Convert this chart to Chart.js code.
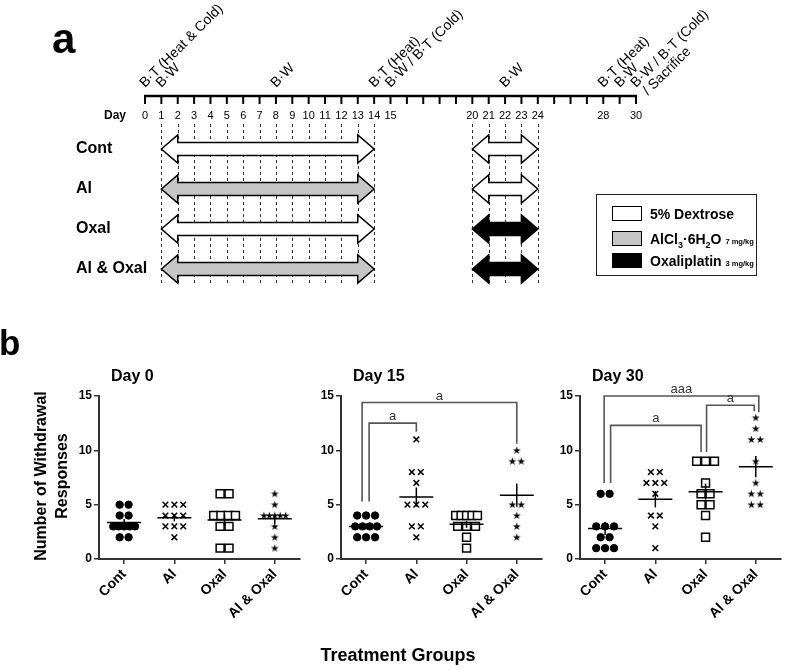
<!DOCTYPE html>
<html><head><meta charset="utf-8">
<script src="https://cdn.jsdelivr.net/npm/chart.js@4.4.1/dist/chart.umd.min.js"></script>
<style>
body{margin:0;background:#fff;width:787px;height:670px;position:relative;overflow:hidden;font-family:Arial,"Liberation Sans",sans-serif;}
canvas{position:absolute;}
.t{position:absolute;font-weight:bold;color:#000;white-space:nowrap;}
#legend{position:absolute;left:596px;top:194px;width:161px;height:82px;border:1px solid #222;box-sizing:border-box;}
.sw{position:absolute;left:15px;width:30px;height:15px;border:1.5px solid #000;box-sizing:border-box;}
.lt{position:absolute;left:53px;font-weight:bold;font-size:14px;line-height:16px;white-space:nowrap;}
.lt small{font-size:7.5px;}
</style></head><body>
<canvas id="cA" style="left:0;top:0" width="787" height="300"></canvas>
<canvas id="c0" style="left:0;top:360px" width="307" height="310"></canvas>
<canvas id="c15" style="left:242px;top:360px" width="307" height="310"></canvas>
<canvas id="c30" style="left:481px;top:360px" width="307" height="310"></canvas>

<div class="t" style="left:52px;top:18px;font-size:42px;line-height:42px;">a</div>
<div class="t" style="left:-1px;top:325px;font-size:35px;line-height:35px;">b</div>
<div class="t" style="left:-48px;top:454px;width:200px;height:44px;font-size:16px;line-height:21px;text-align:center;transform:rotate(-90deg);">Number of Withdrawal<br>Responses</div>
<div class="t" style="left:298px;top:644px;width:200px;text-align:center;font-size:18px;line-height:22px;">Treatment Groups</div>

<div id="legend">
  <div class="sw" style="top:11px;background:#fff"></div><div class="lt" style="top:11px">5% Dextrose</div>
  <div class="sw" style="top:36px;background:#c6c6c6"></div><div class="lt" style="top:36px">AlCl<sub style="font-size:9px">3</sub>·6H<sub style="font-size:9px">2</sub>O <small>7 mg/kg</small></div>
  <div class="sw" style="top:58px;background:#000"></div><div class="lt" style="top:58px">Oxaliplatin <small>3 mg/kg</small></div>
</div>

<script>
// ---------------- DATA ----------------
// Panel a: timeline
const rows = ['Cont', 'Al', 'Oxal', 'Al & Oxal'];
const phase1 = [[1, 14], [1, 14], [1, 14], [1, 14]];
const phase2 = [[20, 24], [20, 24], [20, 24], [20, 24]];
const dayLabels = [0,1,2,3,4,5,6,7,8,9,10,11,12,13,14,15,20,21,22,23,24,28,30];
const dashedDays = [1,2,3,4,5,6,7,8,9,10,11,12,13,14,20,21,22,23,24];
const annotationDays = [0, 1, 8, 14, 15, 22, 28, 29, 30];
const annotationTexts = [['B·T (Heat & Cold)'], ['B·W'], ['B·W'], ['B·T (Heat)'], ['B·W / B·T (Cold)'], ['B·W'], ['B·T (Heat)'], ['B·W'], ['B·W / B·T (Cold)', '/ Sacrifice']];

// Panel b: withdrawal responses
const groups = ['Cont', 'Al', 'Oxal', 'Al & Oxal'];
const yTicks = [0, 5, 10, 15];
const day0Cont    = [5,5,4,4,3,3,3,3,3,2,2];
const day0Al      = [5,5,5,4,4,4,3,3,3,2];
const day0Oxal    = [6,6,4,4,4,4,3,3,1,1];
const day0AlOxal  = [6,5,4,4,4,4,4,3,2,1];
const day15Cont   = [4,4,4,3,3,3,3,2,2,2];
const day15Al     = [11,8,8,7,5,5,5,3,3,2];
const day15Oxal   = [4,4,4,4,4,3,3,3,2,1];
const day15AlOxal = [10,9,9,5,5,4,3,2];
const day30Cont   = [6,6,3,3,3,2,2,1,1,1];
const day30Al     = [8,8,7,7,7,6,4,4,3,1];
const day30Oxal   = [9,9,9,7,6,6,5,5,4,2];
const day30AlOxal = [13,12,11,11,9,7,6,6,5,5];
// significance brackets: [fromGroup, toGroup, topY, leftLegEndY, rightLegEndY, label]
const day15Brackets = [[1,4,14.4,5.3,10.6,'a'], [1,2,12.5,5.3,11.7,'a']];
const day30Brackets = [[1,4,15.0,7.0,13.5,'aaa'], [1,3,12.3,7.0,9.85,'a'], [3,4,14.15,9.85,13.6,'a']];

// ---------------- STYLE ----------------
const FONT = 'Arial, "Liberation Sans", sans-serif';
const phase1Fill = ['#fff', '#c6c6c6', '#fff', '#c6c6c6'];
const phase2Fill = ['#fff', '#fff', '#000', '#000'];

// ---------------- PANEL A ----------------
function drawArrow(ctx, x1, x2, y, fill) {
  const hl = 16.4, hh = 14, sh = 6.5;
  ctx.beginPath();
  ctx.moveTo(x1, y); ctx.lineTo(x1 + hl, y - hh); ctx.lineTo(x1 + hl, y - sh);
  ctx.lineTo(x2 - hl, y - sh); ctx.lineTo(x2 - hl, y - hh); ctx.lineTo(x2, y);
  ctx.lineTo(x2 - hl, y + hh); ctx.lineTo(x2 - hl, y + sh); ctx.lineTo(x1 + hl, y + sh);
  ctx.lineTo(x1 + hl, y + hh); ctx.closePath();
  ctx.fillStyle = fill; ctx.fill();
  ctx.lineWidth = 1.5; ctx.strokeStyle = '#000'; ctx.lineJoin = 'miter'; ctx.stroke();
}
const timelinePlugin = {
  id: 'timeline',
  beforeDatasetsDraw(chart) {
    const ctx = chart.ctx, xs = chart.scales.x, ys = chart.scales.y;
    const axisY = 96;
    ctx.save();
    // dashed day lines
    ctx.strokeStyle = '#333'; ctx.lineWidth = 1; ctx.setLineDash([3, 3]);
    dashedDays.forEach(d => {
      const x = Math.round(xs.getPixelForValue(d)) + 0.5;
      ctx.beginPath(); ctx.moveTo(x, 124); ctx.lineTo(x, 286); ctx.stroke();
    });
    ctx.setLineDash([]);
    // axis line + ticks
    ctx.strokeStyle = '#000'; ctx.lineWidth = 2.5;
    ctx.beginPath(); ctx.moveTo(xs.getPixelForValue(0) - 1, axisY); ctx.lineTo(xs.getPixelForValue(30) + 1, axisY); ctx.stroke();
    ctx.lineWidth = 2;
    for (let d = 0; d <= 30; d++) {
      const x = xs.getPixelForValue(d);
      ctx.beginPath(); ctx.moveTo(x, axisY); ctx.lineTo(x, axisY + 8); ctx.stroke();
    }
    // day labels
    ctx.fillStyle = '#000'; ctx.textBaseline = 'middle'; ctx.textAlign = 'center';
    ctx.font = '11px ' + FONT;
    dayLabels.forEach(d => ctx.fillText(String(d), xs.getPixelForValue(d), 116));
    ctx.textAlign = 'right'; ctx.font = 'bold 12px ' + FONT;
    ctx.fillText('Day', 126, 116);
    // rotated annotations
    ctx.font = '14px ' + FONT; ctx.textAlign = 'left'; ctx.textBaseline = 'alphabetic';
    annotationDays.forEach((d, i) => {
      ctx.save();
      ctx.translate(xs.getPixelForValue(d), 88);
      ctx.rotate(-Math.PI / 4);
      annotationTexts[i].forEach((t, k) => ctx.fillText(t, k * 3, k * 14));
      ctx.restore();
    });
    // row labels
    ctx.font = 'bold 16px ' + FONT; ctx.textBaseline = 'middle'; ctx.textAlign = 'left';
    rows.forEach((r, i) => ctx.fillText(r, 76, ys.getPixelForValue(i)));
    ctx.restore();
  },
  beforeDatasetDraw() { return false; },
  afterDatasetsDraw(chart) {
    const ctx = chart.ctx;
    ctx.save();
    chart.data.datasets.forEach((ds, di) => {
      chart.getDatasetMeta(di).data.forEach((el, i) => {
        const p = el.getProps(['x', 'y', 'base'], true);
        drawArrow(ctx, Math.min(p.x, p.base), Math.max(p.x, p.base), p.y, ds.backgroundColor[i]);
      });
    });
    ctx.restore();
  }
};
new Chart(document.getElementById('cA'), {
  type: 'bar',
  data: { labels: rows, datasets: [
    { data: phase1, backgroundColor: phase1Fill, grouped: false },
    { data: phase2, backgroundColor: phase2Fill, grouped: false }
  ] },
  options: {
    indexAxis: 'y', responsive: false, animation: false, events: [],
    layout: { padding: { left: 145, right: 151, top: 129, bottom: 11 } },
    scales: { x: { type: 'linear', min: 0, max: 30, display: false }, y: { display: false, offset: true } },
    plugins: { legend: { display: false }, tooltip: { enabled: false } }
  },
  plugins: [timelinePlugin]
});

// ---------------- PANEL B ----------------
const starImg = (() => {
  const c = document.createElement('canvas'); c.width = 9; c.height = 9;
  const g = c.getContext('2d'); g.fillStyle = '#000'; g.beginPath();
  for (let i = 0; i < 10; i++) {
    const r = i % 2 ? 1.6 : 4.2, a = -Math.PI / 2 + i * Math.PI / 5;
    g.lineTo(4.5 + r * Math.cos(a), 4.7 + r * Math.sin(a));
  }
  g.closePath(); g.fill(); return c;
})();
const markerStyles = [
  { pointStyle: 'circle', pointRadius: 3.7, pointBackgroundColor: '#000', pointBorderColor: '#000', pointBorderWidth: 1 },
  { pointStyle: 'crossRot', pointRadius: 4, pointBackgroundColor: '#000', pointBorderColor: '#000', pointBorderWidth: 1.5 },
  { pointStyle: 'rect', pointRadius: 5.6, pointBackgroundColor: '#fff', pointBorderColor: '#000', pointBorderWidth: 1.5 },
  { pointStyle: starImg, pointRadius: 4.5, pointBackgroundColor: '#000', pointBorderColor: '#000', pointBorderWidth: 0 }
];
const PX_PER_UNIT = 203 / 4;
function spreadOffsets(vals) {
  const counts = {}, seen = {};
  vals.forEach(v => counts[v] = (counts[v] || 0) + 1);
  return vals.map(v => {
    const n = counts[v]; const k = (seen[v] = (seen[v] || 0) + 1) - 1;
    const step = n <= 3 ? 9 : Math.min(9, 22 / (n - 1));
    return ((k - (n - 1) / 2) * step) / PX_PER_UNIT;
  });
}
function meanSem(vals) {
  const n = vals.length, m = vals.reduce((a, b) => a + b, 0) / n;
  const sd = Math.sqrt(vals.reduce((a, b) => a + (b - m) * (b - m), 0) / (n - 1));
  return [m, sd / Math.sqrt(n)];
}
const legShifts = {
  c15: [[-4, 0], [3, 0]],
  c30: [[-1, 3], [5.5, -4.5], [1, -1.5]]
};
function makePanel(id, title, groupVals, brackets) {
  const plugin = {
    id: 'stats' + id,
    afterDatasetsDraw(chart) {
      const ctx = chart.ctx, xs = chart.scales.x, ys = chart.scales.y;
      ctx.save();
      // mean and SEM
      ctx.strokeStyle = '#000'; ctx.lineWidth = 1.5;
      groupVals.forEach((vals, g) => {
        const [m, s] = meanSem(vals);
        const x = xs.getPixelForValue(g + 1), y = ys.getPixelForValue(m);
        ctx.beginPath(); ctx.moveTo(x - 17, y); ctx.lineTo(x + 17, y); ctx.stroke();
        ctx.beginPath(); ctx.moveTo(x, ys.getPixelForValue(m - s)); ctx.lineTo(x, ys.getPixelForValue(m + s)); ctx.stroke();
      });
      // brackets
      ctx.strokeStyle = '#555'; ctx.lineWidth = 1.6; ctx.fillStyle = '#333';
      ctx.font = '13px ' + FONT; ctx.textAlign = 'center'; ctx.textBaseline = 'alphabetic';
      (brackets || []).forEach((b, i) => {
        const sh = legShifts[id][i];
        const xl = xs.getPixelForValue(b[0]) + sh[0], xr = xs.getPixelForValue(b[1]) + sh[1];
        const yt = ys.getPixelForValue(b[2]);
        ctx.beginPath();
        ctx.moveTo(xl, ys.getPixelForValue(b[3])); ctx.lineTo(xl, yt); ctx.lineTo(xr, yt); ctx.lineTo(xr, ys.getPixelForValue(b[4]));
        ctx.stroke();
        ctx.fillText(b[5], (xl + xr) / 2, yt - 3);
      });
      // title
      ctx.fillStyle = '#000'; ctx.font = 'bold 16px ' + FONT; ctx.textAlign = 'left'; ctx.textBaseline = 'middle';
      ctx.fillText(title, chart.chartArea.left + 12, 17);
      ctx.restore();
    }
  };
  const axisCommon = {
    grid: { drawOnChartArea: false, drawTicks: true, tickLength: 5, color: '#333', lineWidth: 1.5 },
    border: { display: true, color: '#333', width: 2 }
  };
  new Chart(document.getElementById(id), {
    type: 'scatter',
    data: { datasets: groupVals.map((vals, g) => {
      const off = spreadOffsets(vals);
      return Object.assign({ data: vals.map((v, i) => ({ x: g + 1 + off[i], y: v })), showLine: false }, markerStyles[g]);
    }) },
    options: {
      responsive: false, animation: false, events: [],
      layout: { padding: { left: 0, top: 36, right: 5, bottom: 0 } },
      scales: {
        x: Object.assign({
          type: 'linear', min: 0.5, max: 4.5,
          afterBuildTicks: s => { s.ticks = [1, 2, 3, 4].map(v => ({ value: v })); },
          afterFit: s => { s.height = 111; },
          ticks: { callback: v => groups[v - 1], autoSkip: false, maxRotation: 45, minRotation: 45,
                   font: { weight: 'bold', size: 14, family: FONT }, color: '#000', padding: 2 }
        }, axisCommon),
        y: Object.assign({
          min: 0, max: 15,
          afterBuildTicks: s => { s.ticks = yTicks.map(v => ({ value: v })); },
          afterFit: s => { s.width = 99; },
          ticks: { font: { weight: 'bold', size: 12, family: FONT }, color: '#000', padding: 2 }
        }, axisCommon)
      },
      plugins: { legend: { display: false }, tooltip: { enabled: false } }
    },
    plugins: [plugin]
  });
}
makePanel('c0', 'Day 0', [day0Cont, day0Al, day0Oxal, day0AlOxal], null);
makePanel('c15', 'Day 15', [day15Cont, day15Al, day15Oxal, day15AlOxal], day15Brackets);
makePanel('c30', 'Day 30', [day30Cont, day30Al, day30Oxal, day30AlOxal], day30Brackets);
</script>
</body></html>
